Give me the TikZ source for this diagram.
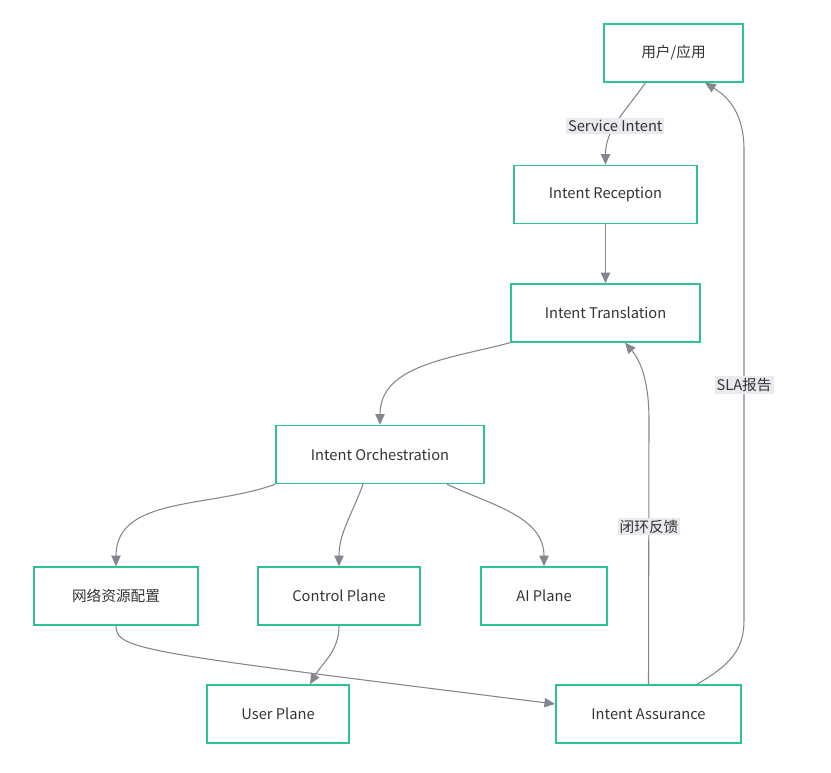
\documentclass[tikz,border=0pt]{standalone}
\usepackage{fontspec}
\setmainfont{Noto Sans CJK SC}
\usetikzlibrary{arrows.meta}

\definecolor{boxgreen}{HTML}{2EC48E}
\definecolor{linkgray}{HTML}{83868F}
\definecolor{tagbg}{HTML}{E9EAEF}
\definecolor{textgray}{HTML}{333333}

\begin{document}
\begin{tikzpicture}[x=0.75pt,y=-0.75pt,>={Triangle[length=8pt,width=7pt]},
                    box/.style={rectangle,draw=boxgreen,line width=1.1pt,minimum height=43.5pt,
                                text=textgray,font=\fontsize{11}{13}\selectfont},
                    link/.style={->,color=linkgray,line width=0.8pt},
                    tag/.style={fill=tagbg,text=textgray,inner sep=1.5pt,font=\fontsize{11}{13}\selectfont}]
  \useasboundingbox (0,0) rectangle (831,773);
  \node[box,minimum width=104pt] (user) at (673.5,53) {用户/应用};
  \node[box,minimum width=137pt] (recep) at (605.5,194.5) {Intent Reception};
  \node[box,minimum width=142pt] (trans) at (605.5,313) {Intent Translation};
  \node[box,minimum width=156pt] (orch) at (380,454.5) {Intent Orchestration};
  \node[box,minimum width=123pt] (net) at (116,596) {网络资源配置};
  \node[box,minimum width=121.5pt] (ctrl) at (339,596) {Control Plane};
  \node[box,minimum width=94.5pt] (ai) at (544,596) {AI Plane};
  \node[box,minimum width=106.5pt] (uplane) at (278,714) {User Plane};
  \node[box,minimum width=139pt] (assure) at (648.5,714) {Intent Assurance};
  % forward flow
  \path[link]
    ([xshift=-21pt]user.south) edge[out=235,in=90] node[tag,pos=0.56] {Service Intent} (recep)
    (recep) edge (trans)
    (trans.south west) edge[out=195,in=90] (orch)
    (orch.south west) edge[out=200,in=90] (net)
    ([xshift=-12.75pt]orch.south) edge[out=250,in=90] (ctrl)
    ([xshift=50.25pt]orch.south) edge[out=335,in=90] (ai)
    (ctrl) edge[out=270,in=60] ([xshift=24pt]uplane.north);
  \draw[link] (net.south) .. controls (116,650) and (140,652) .. ([yshift=7.5pt]assure.west);
  % feedback
  \draw[link] (assure.north) -- (649,420) .. controls (649,380) and (640,360) .. ([xshift=14.6pt]trans.south)
    node[tag,pos=0,yshift=-80pt] {闭环反馈};
  \draw[link] ([xshift=36.4pt]assure.north) .. controls (730,665) and (744,650) .. (744,620)
    -- node[tag] {SLA报告} (744,150) .. controls (744,110) and (725,95) .. ([xshift=23.6pt]user.south);
\end{tikzpicture}
\end{document}
